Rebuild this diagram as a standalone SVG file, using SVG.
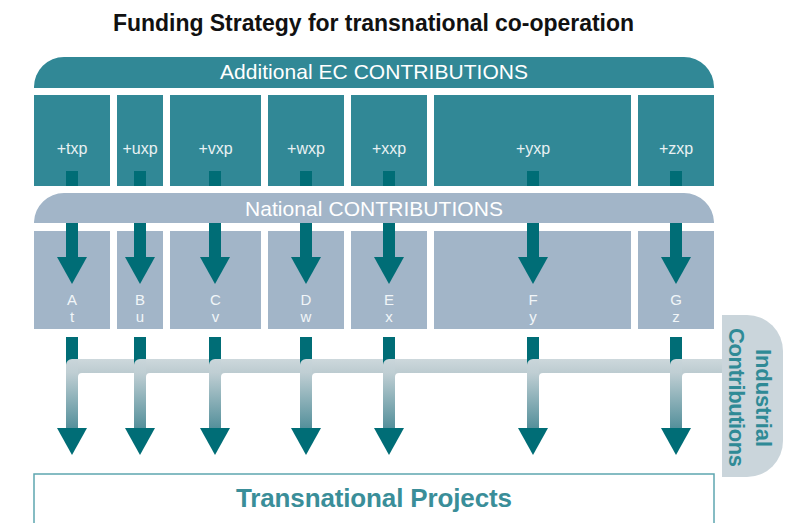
<svg xmlns="http://www.w3.org/2000/svg" width="792" height="523" viewBox="0 0 792 523">
  <defs>
    <style>
      .title { font-family: "Liberation Sans", Arial, sans-serif; font-weight: bold; font-size: 23px; fill: #111; }
      .banner-text { font-family: "Liberation Sans", Arial, sans-serif; font-size: 21px; fill: #ffffff; }
      .ec { fill: #318896; }
      .nat { fill: #a2b5c8; }
      .ec-label { font-family: "Liberation Sans", Arial, sans-serif; font-size: 16px; fill: #e8f1f3; text-anchor: middle; }
      .nat-label { font-family: "Liberation Sans Narrow", "Liberation Sans", Arial, sans-serif; font-size: 15px; fill: #f1f5f8; text-anchor: middle; }
      .arrow { fill: #006d76; }
      .industrial-text { font-family: "Liberation Sans", Arial, sans-serif; font-weight: bold; font-size: 22px; fill: #2f8a96; text-anchor: middle; }
      .projects-text { font-family: "Liberation Sans", Arial, sans-serif; font-weight: bold; font-size: 26px; fill: #3a8e99; text-anchor: middle; }
    </style>
    <linearGradient id="dropFade" gradientUnits="userSpaceOnUse" x1="0" y1="359" x2="0" y2="428">
      <stop offset="0" stop-color="#cad6da"/>
      <stop offset="0.2" stop-color="#bfced3"/>
      <stop offset="1" stop-color="#55909b"/>
    </linearGradient>
    <linearGradient id="pipeFade" gradientUnits="userSpaceOnUse" x1="0" y1="359" x2="0" y2="373">
      <stop offset="0" stop-color="#cdd8dc"/>
      <stop offset="1" stop-color="#bccbd0"/>
    </linearGradient>
    <!-- downward arrowhead, centred on x=0 with its base at y=0 -->
    <polygon id="head" points="-15,0 15,0 0,27"/>
  </defs>

  <rect width="792" height="523" fill="#ffffff"/>

  <g id="title">
    <text class="title" x="373.5" y="31" text-anchor="middle" textLength="521">Funding Strategy for transnational co-operation</text>
  </g>

  <!-- EC contributions band and its country boxes -->
  <g id="ec-banner">
    <path class="ec" d="M34,88 V87 A30,30 0 0 1 64,57 H684 A30,30 0 0 1 714,87 V88 Z"/>
    <text class="banner-text" x="374" y="79" text-anchor="middle" textLength="308">Additional EC CONTRIBUTIONS</text>
  </g>
  <g id="ec-t"><rect class="ec" x="34" y="95" width="76" height="91"/><text class="ec-label" x="72" y="154">+txp</text></g>
  <g id="ec-u"><rect class="ec" x="117" y="95" width="46" height="91"/><text class="ec-label" x="140" y="154">+uxp</text></g>
  <g id="ec-v"><rect class="ec" x="170" y="95" width="91" height="91"/><text class="ec-label" x="215.5" y="154">+vxp</text></g>
  <g id="ec-w"><rect class="ec" x="268" y="95" width="76" height="91"/><text class="ec-label" x="306" y="154">+wxp</text></g>
  <g id="ec-x"><rect class="ec" x="351" y="95" width="76" height="91"/><text class="ec-label" x="389" y="154">+xxp</text></g>
  <g id="ec-y"><rect class="ec" x="434" y="95" width="197" height="91"/><text class="ec-label" x="533" y="154">+yxp</text></g>
  <g id="ec-z"><rect class="ec" x="638" y="95" width="76" height="91"/><text class="ec-label" x="676" y="154">+zxp</text></g>

  <!-- National contributions band and its country boxes -->
  <g id="national-banner">
    <path class="nat" d="M34,223 V222 A30,30 0 0 1 64,193 H684 A30,30 0 0 1 714,222 V223 Z"/>
    <text class="banner-text" x="374" y="216" text-anchor="middle" textLength="258">National CONTRIBUTIONS</text>
  </g>
  <g id="nat-a"><rect class="nat" x="34" y="231" width="76" height="98"/><text class="nat-label" x="72" y="305">A</text><text class="nat-label" x="72" y="322">t</text></g>
  <g id="nat-b"><rect class="nat" x="117" y="231" width="46" height="98"/><text class="nat-label" x="140" y="305">B</text><text class="nat-label" x="140" y="322">u</text></g>
  <g id="nat-c"><rect class="nat" x="170" y="231" width="91" height="98"/><text class="nat-label" x="215.5" y="305">C</text><text class="nat-label" x="215.5" y="322">v</text></g>
  <g id="nat-d"><rect class="nat" x="268" y="231" width="76" height="98"/><text class="nat-label" x="306" y="305">D</text><text class="nat-label" x="306" y="322">w</text></g>
  <g id="nat-e"><rect class="nat" x="351" y="231" width="76" height="98"/><text class="nat-label" x="389" y="305">E</text><text class="nat-label" x="389" y="322">x</text></g>
  <g id="nat-f"><rect class="nat" x="434" y="231" width="197" height="98"/><text class="nat-label" x="533" y="305">F</text><text class="nat-label" x="533" y="322">y</text></g>
  <g id="nat-g"><rect class="nat" x="638" y="231" width="76" height="98"/><text class="nat-label" x="676" y="305">G</text><text class="nat-label" x="676" y="322">z</text></g>

  <!-- Industrial contributions tab -->
  <g id="industrial">
    <path d="M722,315 H747 A36,36 0 0 1 783,351 V441 A36,36 0 0 1 747,477 H722 Z" fill="#cad5db"/>
    <text class="industrial-text" transform="translate(756,398) rotate(90)" textLength="98">Industrial</text>
    <text class="industrial-text" transform="translate(729,397.5) rotate(90)" textLength="139">Contributions</text>
  </g>

  <!-- Transnational projects box (runs off the lower edge) -->
  <g id="projects">
    <rect x="34" y="474" width="680" height="70" fill="#ffffff" stroke="#5ea6b0" stroke-width="1.5"/>
    <text class="projects-text" x="374" y="507" textLength="276">Transnational Projects</text>
  </g>

  <g id="connectors">
    <!-- EC flows: a stub inside each EC box, then the shaft resumes below the national band -->
    <g id="upper-arrows" class="arrow">
      <rect x="66" y="171" width="12" height="15"/><rect x="66" y="223" width="12" height="35"/><use href="#head" x="72" y="257"/>
      <rect x="134" y="171" width="12" height="15"/><rect x="134" y="223" width="12" height="35"/><use href="#head" x="140" y="257"/>
      <rect x="209" y="171" width="12" height="15"/><rect x="209" y="223" width="12" height="35"/><use href="#head" x="215" y="257"/>
      <rect x="300" y="171" width="12" height="15"/><rect x="300" y="223" width="12" height="35"/><use href="#head" x="306" y="257"/>
      <rect x="383" y="171" width="12" height="15"/><rect x="383" y="223" width="12" height="35"/><use href="#head" x="389" y="257"/>
      <rect x="527" y="171" width="12" height="15"/><rect x="527" y="223" width="12" height="35"/><use href="#head" x="533" y="257"/>
      <rect x="670" y="171" width="12" height="15"/><rect x="670" y="223" width="12" height="35"/><use href="#head" x="676" y="257"/>
    </g>

    <!-- industrial pipe feeding each column -->
    <rect id="pipe" x="72" y="359" width="650" height="14" fill="url(#pipeFade)"/>

    <g id="lower-shafts" class="arrow">
      <rect x="66" y="337" width="12" height="29"/>
      <rect x="134" y="337" width="12" height="29"/>
      <rect x="209" y="337" width="12" height="29"/>
      <rect x="300" y="337" width="12" height="29"/>
      <rect x="383" y="337" width="12" height="29"/>
      <rect x="527" y="337" width="12" height="29"/>
      <rect x="670" y="337" width="12" height="29"/>
    </g>

    <g id="drops" fill="url(#dropFade)">
      <path d="M66,428 V365 A6,6 0 0 1 72,359 H78 V428 Z M78,373 H82 A4,4 0 0 0 78,377 Z"/>
      <path d="M134,428 V365 A6,6 0 0 1 140,359 H146 V428 Z M146,373 H150 A4,4 0 0 0 146,377 Z"/>
      <path d="M209,428 V365 A6,6 0 0 1 215,359 H221 V428 Z M221,373 H225 A4,4 0 0 0 221,377 Z"/>
      <path d="M300,428 V365 A6,6 0 0 1 306,359 H312 V428 Z M312,373 H316 A4,4 0 0 0 312,377 Z"/>
      <path d="M383,428 V365 A6,6 0 0 1 389,359 H395 V428 Z M395,373 H399 A4,4 0 0 0 395,377 Z"/>
      <path d="M527,428 V365 A6,6 0 0 1 533,359 H539 V428 Z M539,373 H543 A4,4 0 0 0 539,377 Z"/>
      <path d="M670,428 V365 A6,6 0 0 1 676,359 H682 V428 Z M682,373 H686 A4,4 0 0 0 682,377 Z"/>
    </g>

    <g id="lower-heads" class="arrow">
      <use href="#head" x="72" y="428"/>
      <use href="#head" x="140" y="428"/>
      <use href="#head" x="215" y="428"/>
      <use href="#head" x="306" y="428"/>
      <use href="#head" x="389" y="428"/>
      <use href="#head" x="533" y="428"/>
      <use href="#head" x="676" y="428"/>
    </g>
  </g>
</svg>
